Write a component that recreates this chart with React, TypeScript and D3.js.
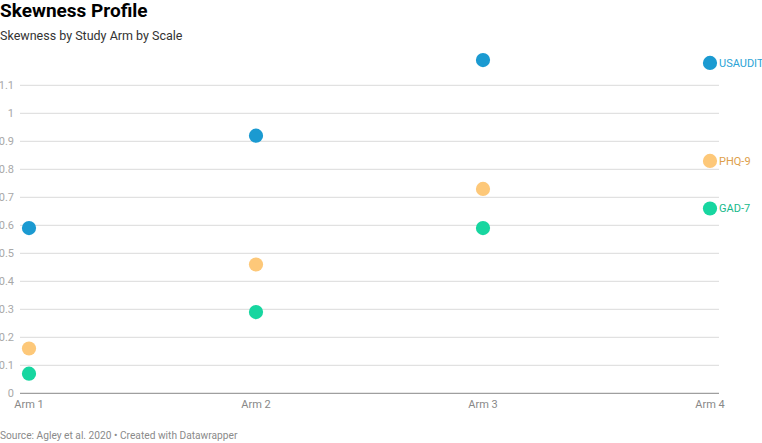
import React, { useEffect, useRef } from 'react';
import * as d3 from 'd3';

const arms = ['Arm 1', 'Arm 2', 'Arm 3', 'Arm 4'];
const yTicks = [0, 0.1, 0.2, 0.3, 0.4, 0.5, 0.6, 0.7, 0.8, 0.9, 1, 1.1];

const usaudit = [0.59, 0.92, 1.19, 1.18];
const phq9 = [0.16, 0.46, 0.73, 0.83];
const gad7 = [0.07, 0.29, 0.59, 0.66];

const series = [
    { name: 'USAUDIT', values: usaudit, color: '#1b9ad1', label: '#2aa3d6' },
    { name: 'PHQ-9', values: phq9, color: '#fdc879', label: '#dea04a' },
    { name: 'GAD-7', values: gad7, color: '#17d6a0', label: '#16b98a' },
];

export default function App() {
    const ref = useRef<SVGSVGElement>(null);

    useEffect(() => {
        const svg = d3.select(ref.current);
        svg.selectAll('*').remove();

        const left = 20, right = 719;

        const x = d3.scalePoint().domain(arms).range([29, 710]);
        const y = d3.scaleLinear().domain([0, 1.1]).range([393.3, 85.3]);

        // titles
        svg.append('text').attr('x', 0).attr('y', 17)
            .style('font-family', 'Roboto').style('font-weight', 700).style('font-size', '19px')
            .attr('fill', '#000').text('Skewness Profile');
        svg.append('text').attr('x', 0).attr('y', 40)
            .style('font-family', 'Roboto').style('font-size', '12.5px')
            .attr('fill', '#333').text('Skewness by Study Arm by Scale');

        // grid + y labels
        const g = svg.append('g');
        yTicks.forEach(t => {
            g.append('line')
                .attr('x1', left).attr('x2', right)
                .attr('y1', y(t)).attr('y2', y(t))
                .attr('stroke', t === 0 ? '#888' : '#dadada')
                .attr('stroke-width', 1);
            g.append('text')
                .attr('x', 14).attr('y', y(t)).attr('dy', '0.35em')
                .attr('text-anchor', 'end')
                .style('font-family', 'Roboto').style('font-size', '11px')
                .attr('fill', '#a8a8a8').text(d3.format('~g')(t));
        });

        // x labels
        arms.forEach(a => {
            g.append('text')
                .attr('x', x(a)!).attr('y', 408)
                .attr('text-anchor', 'middle')
                .style('font-family', 'Roboto').style('font-size', '11px')
                .attr('fill', '#888').text(a);
        });

        // dots
        series.forEach(s => {
            g.selectAll(null)
                .data(s.values)
                .enter()
                .append('circle')
                .attr('cx', (d, i) => x(arms[i])!)
                .attr('cy', d => y(d))
                .attr('r', 7.1)
                .attr('fill', s.color);
            const last = s.values[s.values.length - 1];
            g.append('text')
                .attr('x', x(arms[arms.length - 1])! + 9)
                .attr('y', y(last)).attr('dy', '0.35em')
                .style('font-family', 'Roboto').style('font-size', '11px')
                .attr('fill', s.label).text(s.name);
        });

        svg.append('text').attr('x', 0).attr('y', 439)
            .style('font-family', 'Roboto').style('font-size', '10.2px')
            .attr('fill', '#8a8a8a').text('Source: Agley et al. 2020 • Created with Datawrapper');
    }, []);

    return (
        <svg ref={ref} width={762} height={443}
            style={{ position: 'absolute', left: 0, top: 0, background: '#fff' }} />
    );
}
